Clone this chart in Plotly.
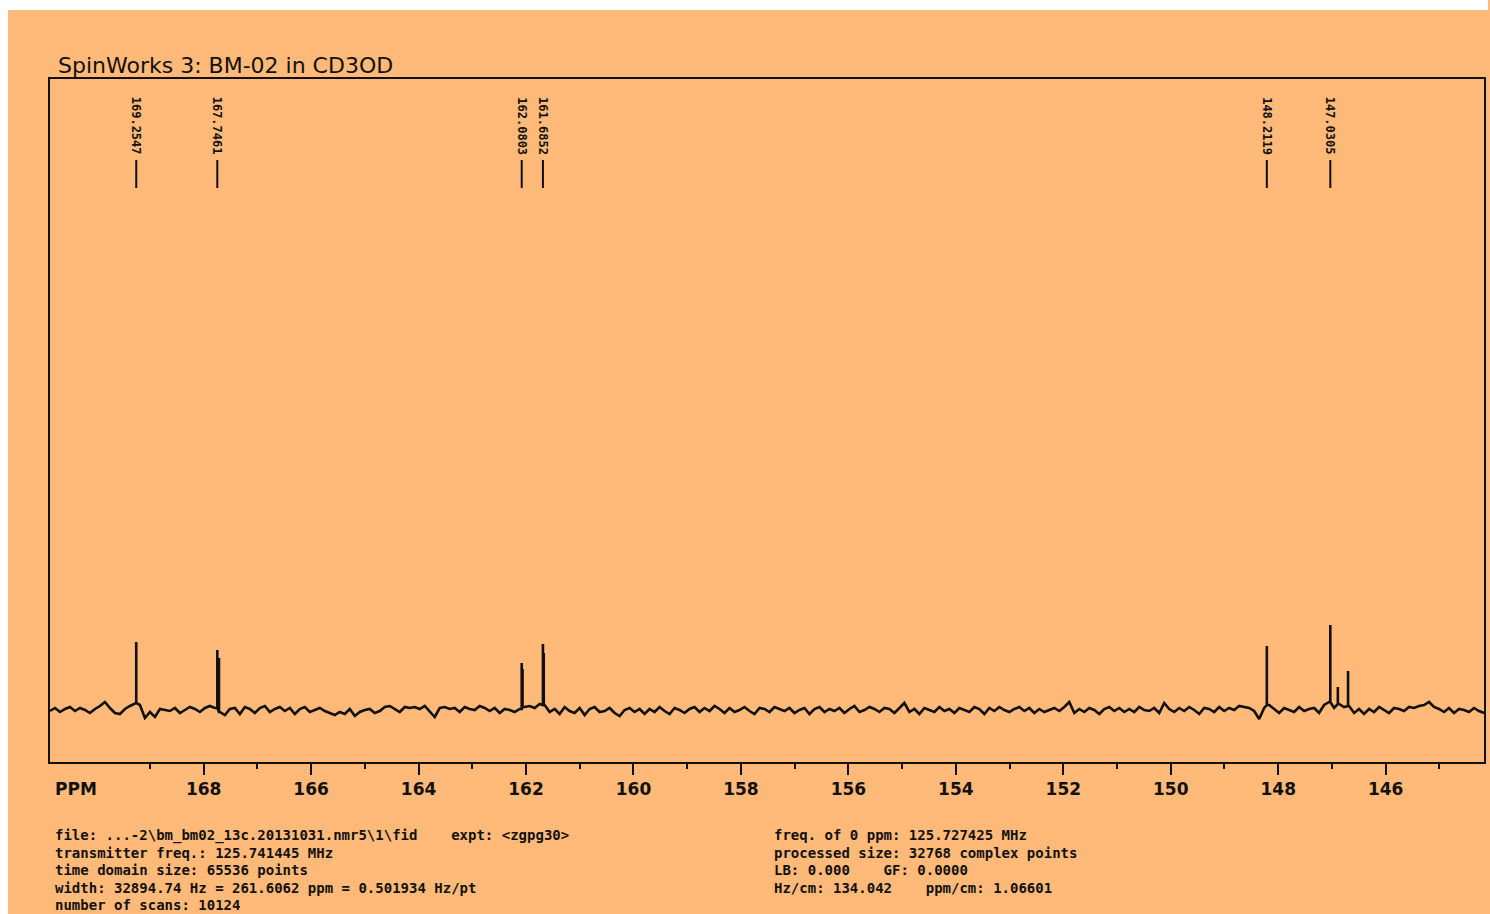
import numpy as np
import plotly.graph_objects as go

# ---------------- data ----------------
ppm_left, ppm_right = 170.86, 144.17

# baseline noise (intensity units), left (high ppm) -> right
noise = [
    -1, 2, -2, 1, 3, -1, 2, 0, -3, 1, 4, 8, 2, -3, -4, 1, 4, 7, 5, -8, -2, -7, 1, 0,
    -1, 2, -3, 0, 3, 1, -2, 2, 4, 2, -2, -5, 1, 2, -4, 3, 1, -3, 2, 4, -2, 1, 3, -1,
    2, -4, 1, 3, -2, 0, 2, -1, -3, -5, -2, -4, 1, -6, -2, 0, 1, -3, -1, 3, 4, 1, -2, 3,
    2, 3, 1, 4, -1, -7, 2, 3, 1, 2, -2, 3, 1, 0, 4, 2, -1, 2, -3, 1, 0, -2, 1, 3,
    4, 2, 6, 5, -2, 1, -4, 3, -1, -3, 2, -5, 1, 3, -2, -1, 2, -3, -6, 0, 2, -2, 1, -4,
    1, -2, 3, -1, -4, 2, 0, -3, 1, 3, -2, 2, -1, 4, 1, -3, 2, -2, 0, 3, -1, -4, 2, 1,
    -2, 3, 1, -1, 2, -3, 0, 2, -4, 1, 3, -2, 1, -1, 2, -3, 1, 4, -2, 0, 3, 1, -2, 2,
    1, -3, 2, 7, -2, 1, -4, 2, 0, -2, 3, -1, 1, -3, 2, 0, -2, 3, 1, -4, 2, -1, 3, 0,
    -2, 1, 3, -1, 2, -3, 1, -2, 0, 2, -1, 3, 8, -3, 1, -2, 2, 0, -4, 1, 3, -1, 2, -2,
    1, -2, 3, 0, -1, 2, -3, 7, 1, -2, 2, -1, 3, 0, -4, 2, 1, -2, 3, -1, 2, 0, 4, 3,
    2, -1, -9, 2, 5, 1, -3, 2, 0, -2, 3, -1, 1, 2, -3, 5, 8, 2, 6, 3, 4, -3, 1, -4,
    1, -2, 3, 0, -3, 2, 1, -1, 3, 2, 4, 5, 8, 3, 1, -2, 2, -3, 1, 0, -2, 2, -1, -3,
]

peak_ppm = [169.2547, 167.7461, 167.715, 162.0803, 162.065, 161.6852, 161.67,
            148.2119, 147.0305, 146.89, 146.70]
peak_height = [61, 58, 54, 46, 38, 61, 52, 59, 77, 17, 35]

label_ppm = [169.2547, 167.7461, 162.0803, 161.6852, 148.2119, 147.0305]
label_text = ["169.2547", "167.7461", "162.0803", "161.6852", "148.2119", "147.0305"]

major_ticks = [168, 166, 164, 162, 160, 158, 156, 154, 152, 150, 148, 146]
minor_ticks = [169, 167, 165, 163, 161, 159, 157, 155, 153, 151, 149, 147, 145]

title_text = "SpinWorks 3: BM-02 in CD3OD"
footer_left = [
    "file: ...-2\\bm_bm02_13c.20131031.nmr5\\1\\fid    expt: <zgpg30>",
    "transmitter freq.: 125.741445 MHz",
    "time domain size: 65536 points",
    "width: 32894.74 Hz = 261.6062 ppm = 0.501934 Hz/pt",
    "number of scans: 10124",
]
footer_right = [
    "freq. of 0 ppm: 125.727425 MHz",
    "processed size: 32768 complex points",
    "LB: 0.000    GF: 0.0000",
    "Hz/cm: 134.042    ppm/cm: 1.06601",
]

# ---------------- build spectrum ----------------
grid = np.linspace(ppm_left, ppm_right, len(noise))
pts = list(zip(grid.tolist(), [float(v) for v in noise]))
for p, h in zip(peak_ppm, peak_height):
    b = float(noise[int(np.argmin(np.abs(grid - p)))])
    pts += [(p + 1e-6, b), (p, b + h), (p - 1e-6, b)]
pts.sort(key=lambda t: -t[0])
xs = [t[0] for t in pts]
ys = [t[1] for t in pts]

# ---------------- layout helpers ----------------
W, H = 1490, 914
L, R, T, B = 50, 1486, 79, 762
pw, ph = R - L, B - T


def px(xp):
    return (xp - L) / pw


def py(yp):
    return (B - yp) / ph


ORANGE = "#FFB978"
INK = "#111111"
FONT = "DejaVu Sans"
MONO = "DejaVu Sans Mono"

fig = go.Figure()
fig.add_trace(go.Scatter(x=xs, y=ys, mode="lines",
                         line=dict(color=INK, width=2.6), hoverinfo="skip",
                         showlegend=False))

annotations = []
shapes = []

# peak labels + markers
for p, t in zip(label_ppm, label_text):
    annotations.append(dict(x=p, xref="x", y=py(95), yref="paper", text=t,
                            textangle=90, showarrow=False, xanchor="center",
                            yanchor="top",
                            font=dict(family=MONO, size=12, color=INK, weight="bold")))
    shapes.append(dict(type="line", xref="x", yref="paper", x0=p, x1=p,
                       y0=py(160), y1=py(188), line=dict(color=INK, width=2)))

# title
annotations.append(dict(x=px(56), xref="paper", y=py(66), yref="paper",
                        text=title_text, showarrow=False, xanchor="left",
                        yanchor="middle",
                        font=dict(family=FONT, size=22, color=INK)))
# PPM label
annotations.append(dict(x=px(53), xref="paper", y=py(789), yref="paper",
                        text="PPM", showarrow=False, xanchor="left",
                        yanchor="middle",
                        font=dict(family=FONT, size=17, color=INK, weight="bold")))
# footer
for i, t in enumerate(footer_left):
    annotations.append(dict(x=px(53), xref="paper", y=py(835 + 17.5 * i), yref="paper",
                            text=t, showarrow=False, xanchor="left", yanchor="middle",
                            font=dict(family=MONO, size=14, color=INK, weight="bold")))
for i, t in enumerate(footer_right):
    annotations.append(dict(x=px(773), xref="paper", y=py(835 + 17.5 * i), yref="paper",
                            text=t, showarrow=False, xanchor="left", yanchor="middle",
                            font=dict(family=MONO, size=14, color=INK, weight="bold")))

# white outer border strips (top and left)
shapes.append(dict(type="rect", xref="paper", yref="paper", x0=px(0), x1=px(W),
                   y0=py(10), y1=py(0), fillcolor="white", line=dict(width=0),
                   layer="above"))
shapes.append(dict(type="rect", xref="paper", yref="paper", x0=px(0), x1=px(8),
                   y0=py(H), y1=py(0), fillcolor="white", line=dict(width=0),
                   layer="above"))

fig.update_layout(
    width=W, height=H,
    margin=dict(l=L, r=W - R, t=T, b=H - B, pad=0),
    paper_bgcolor=ORANGE, plot_bgcolor=ORANGE,
    annotations=annotations, shapes=shapes,
    xaxis=dict(range=[ppm_left, ppm_right], tickmode="array", tickvals=major_ticks,
               ticktext=[str(v) for v in major_ticks],
               ticks="outside", ticklen=11, tickwidth=2, tickcolor=INK,
               showline=True, linecolor=INK, linewidth=2, mirror=True,
               showgrid=False, zeroline=False,
               tickfont=dict(family=FONT, size=17, color=INK, weight="bold"),
               minor=dict(tickvals=minor_ticks, ticks="outside", ticklen=5,
                          tickwidth=2, tickcolor=INK, showgrid=False)),
    yaxis=dict(range=[-52, 631], showticklabels=False, ticks="", showgrid=False,
               zeroline=False, showline=True, linecolor=INK, linewidth=2, mirror=True),
)

fig.write_html("out.html")
